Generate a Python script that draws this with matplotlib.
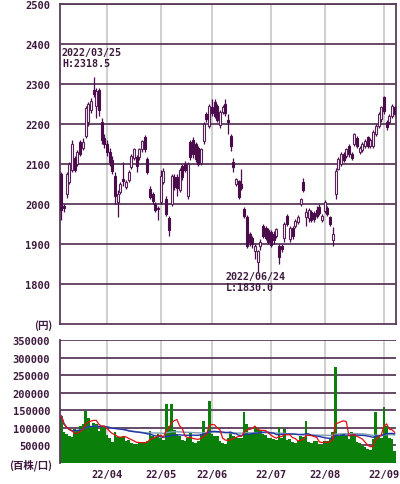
import matplotlib
matplotlib.use("Agg")
import matplotlib.pyplot as plt
import numpy as np
import pandas as pd

# ---------------- data ----------------
opens = [2075, 1995, 2025, 2055, 2085, 2115, 2100, 2155, 2140, 2170,
         2205, 2235, 2285, 2245, 2285, 2205, 2165, 2150, 2130, 2110,
         2070, 2005, 2030, 2062, 2042, 2060, 2092, 2115, 2117, 2118,
         2137, 2167, 2112, 2037, 2025, 2000, 1990, 2005, 2055, 2012,
         1965, 2000, 2067, 2068, 2035, 2095, 2100, 2020, 2155, 2160,
         2150, 2140, 2102, 2157, 2225, 2195, 2242, 2255, 2245, 2198,
         2230, 2250, 2210, 2170, 2105, 2050, 2057, 2050, 1987, 1967,
         1925, 1915, 1882, 1855, 1895, 1945, 1940, 1935, 1930, 1925,
         1920, 1895, 1895, 1915, 1970, 1912, 1940, 1945, 1955, 2000,
         2055, 1967, 1965, 1980, 1978, 1985, 1992, 1960, 1982, 1990,
         1967, 1910, 2025, 2087, 2100, 2125, 2120, 2145, 2125, 2150,
         2165, 2130, 2135, 2145, 2167, 2145, 2145, 2175, 2195, 2212,
         2267, 2205, 2205, 2220, 2242]
highs = [2080, 2000, 2080, 2105, 2160, 2120, 2135, 2160, 2165, 2245,
         2255, 2265, 2318.5, 2290, 2290, 2215, 2175, 2160, 2140, 2120,
         2080, 2035, 2055, 2105, 2060, 2085, 2125, 2140, 2122, 2140,
         2160, 2172, 2118, 2045, 2030, 2005, 1995, 2085, 2090, 2020,
         1970, 2075, 2075, 2075, 2090, 2100, 2108, 2105, 2160, 2168,
         2155, 2145, 2140, 2205, 2230, 2250, 2262, 2262, 2250, 2235,
         2248, 2262, 2225, 2175, 2115, 2065, 2060, 2088, 1992, 1972,
         1930, 1920, 1900, 1885, 1912, 1950, 1945, 1940, 1935, 1932,
         1940, 1900, 1900, 1955, 1975, 1945, 1945, 1962, 1972, 2015,
         2065, 1990, 1990, 1985, 1982, 1995, 2000, 1975, 2010, 1995,
         1970, 1942, 2090, 2118, 2130, 2130, 2140, 2150, 2130, 2178,
         2170, 2145, 2155, 2162, 2170, 2165, 2185, 2200, 2230, 2245,
         2270, 2210, 2225, 2250, 2248]
lows = [1960, 1980, 2015, 2050, 2080, 2080, 2095, 2120, 2135, 2165,
        2195, 2228, 2268, 2215, 2220, 2150, 2140, 2120, 2095, 2075,
        2000, 1968, 2025, 2045, 2038, 2055, 2088, 2110, 2080, 2110,
        2130, 2130, 2075, 2012, 2000, 1980, 1960, 2000, 2050, 1970,
        1920, 1995, 2035, 2020, 2030, 2060, 2080, 2012, 2110, 2115,
        2105, 2095, 2098, 2150, 2205, 2190, 2220, 2215, 2205, 2190,
        2225, 2220, 2175, 2132, 2080, 2045, 2012, 2035, 1965, 1890,
        1895, 1890, 1862, 1830, 1885, 1915, 1910, 1900, 1892, 1900,
        1915, 1850, 1880, 1905, 1945, 1905, 1912, 1940, 1950, 1995,
        2030, 1945, 1955, 1955, 1955, 1965, 1972, 1955, 1978, 1970,
        1945, 1895, 2012, 2085, 2095, 2105, 2115, 2118, 2110, 2145,
        2140, 2125, 2130, 2140, 2140, 2140, 2140, 2170, 2190, 2205,
        2225, 2185, 2200, 2215, 2218]
closes = [1985, 1990, 2075, 2100, 2150, 2085, 2130, 2125, 2155, 2240,
          2250, 2258, 2275, 2282, 2235, 2160, 2150, 2130, 2105, 2082,
          2020, 2025, 2050, 2058, 2055, 2080, 2120, 2137, 2095, 2137,
          2157, 2137, 2080, 2017, 2007, 1985, 1987, 2070, 2082, 1975,
          1935, 2070, 2042, 2040, 2085, 2068, 2085, 2100, 2117, 2125,
          2112, 2100, 2137, 2200, 2212, 2245, 2228, 2220, 2210, 2230,
          2242, 2228, 2205, 2145, 2092, 2062, 2017, 2040, 1970, 1895,
          1905, 1900, 1895, 1882, 1905, 1920, 1915, 1905, 1897, 1910,
          1937, 1867, 1888, 1950, 1950, 1940, 1920, 1957, 1968, 2012,
          2035, 1980, 1985, 1960, 1962, 1970, 1977, 1970, 2005, 1975,
          1950, 1925, 2082, 2112, 2125, 2110, 2137, 2125, 2115, 2175,
          2145, 2140, 2150, 2158, 2145, 2160, 2180, 2195, 2225, 2242,
          2232, 2192, 2220, 2245, 2225]
volumes = [134000, 88000, 82000, 78000, 75000, 97000, 92000, 105000, 111000, 148000,
           128000, 105000, 114000, 112000, 90000, 105000, 104000, 80000, 70000, 60000,
           88000, 75000, 73000, 76000, 62000, 65000, 58000, 54000, 55000, 60000,
           61000, 59000, 62000, 91000, 77000, 75000, 82000, 70000, 66000, 168000,
           105000, 168000, 95000, 82000, 78000, 66000, 64000, 70000, 88000, 60000,
           58000, 62000, 82000, 120000, 88000, 176000, 82000, 77000, 76000, 62000,
           57000, 55000, 70000, 88000, 77000, 75000, 70000, 70000, 145000, 111000,
           82000, 82000, 105000, 100000, 95000, 82000, 80000, 70000, 70000, 68000,
           66000, 102000, 70000, 97000, 66000, 68000, 60000, 58000, 62000, 77000,
           75000, 120000, 60000, 58000, 64000, 63000, 54000, 52000, 64000, 62000,
           70000, 88000, 273000, 77000, 80000, 82000, 78000, 68000, 88000, 86000,
           60000, 58000, 48000, 46000, 40000, 38000, 68000, 145000, 77000, 70000,
           160000, 105000, 70000, 68000, 34000]
month_ticks = [17, 37, 56, 78, 98, 120]
month_labels = ["22/04", "22/05", "22/06", "22/07", "22/08", "22/09"]
price_ticks = [1800, 1900, 2000, 2100, 2200, 2300, 2400, 2500]
vol_ticks = [50000, 100000, 150000, 200000, 250000, 300000, 350000]
high_note = "2022/03/25\nH:2318.5"
low_note = "2022/06/24\nL:1830.0"

# ---------------- style ----------------
plt.rcParams['font.family'] = ['DejaVu Sans Mono', 'Noto Sans CJK JP']
TXT = "#3d1a3d"
GRID_H = "#5a3a5a"
GRID_V = "#cccccc"
DOWN = "#4a0c4a"
EDGE = "#5a205a"

W, H = 400, 485
fig = plt.figure(figsize=(W / 100, H / 100), dpi=100)
fig.patch.set_facecolor("white")

def px_ax(x0, y0, x1, y1):
    return fig.add_axes([x0 / W, 1 - y1 / H, (x1 - x0) / W, (y1 - y0) / H])

n = len(closes)
idx = np.arange(n)
o = np.array(opens, float); c = np.array(closes, float)
h = np.array(highs, float); l = np.array(lows, float)

# ---------------- price panel ----------------
ax = px_ax(60, 5, 396, 325)
ax.set_xlim(-0.5, n - 0.5)
ax.set_ylim(1700, 2500)
for t in month_ticks:
    ax.axvline(t, color=GRID_V, lw=1.3, zorder=0)
for p in price_ticks:
    ax.axhline(p, color=GRID_H, lw=1.3, zorder=1)

ax.vlines(idx, l, h, color=DOWN, lw=0.9, zorder=2)
up = c >= o
bottoms = np.minimum(o, c)
heights = np.maximum(np.abs(c - o), 2.5)
ax.bar(idx[up], heights[up], bottom=bottoms[up], width=0.75,
       color="white", edgecolor=EDGE, linewidth=0.8, zorder=3)
ax.bar(idx[~up], heights[~up], bottom=bottoms[~up], width=0.75,
       color=DOWN, edgecolor=DOWN, linewidth=0.8, zorder=3)

ax.set_yticks(price_ticks)
ax.set_yticklabels([str(p) for p in price_ticks], fontsize=7.5,
                   fontweight="bold", color=TXT)
ax.set_xticks([])
ax.tick_params(axis="y", length=0, pad=7)
for s in ax.spines.values():
    s.set_color(GRID_H); s.set_linewidth(1.3)

imax = int(np.argmax(h)); imin = int(np.argmin(l))
ax.text(imax - 11.8, 2392, high_note, fontsize=7.2, fontweight="bold",
        color=TXT, va="top", ha="left", linespacing=1.05)
ax.text(imin - 11.8, 1832, low_note, fontsize=7.2, fontweight="bold",
        color=TXT, va="top", ha="left", linespacing=1.05)

fig.text(52 / W, 1 - 326 / H, "(円)", fontsize=7.5, fontweight="bold",
         color=TXT, ha="right", va="center",
         family=['Noto Sans CJK JP', 'DejaVu Sans'])

# ---------------- volume panel ----------------
av = px_ax(60, 341, 396, 464)
av.set_xlim(-0.5, n - 0.5)
av.set_ylim(0, 350000)
for t in month_ticks:
    av.axvline(t, color=GRID_V, lw=1.3, zorder=0)
for v in vol_ticks:
    av.axhline(v, color=GRID_H, lw=1.3, zorder=1)
av.bar(idx, volumes, width=1.0, color="#0a800a", edgecolor="none", zorder=2)

vs = pd.Series(volumes, dtype=float)
ma5 = vs.rolling(5, min_periods=1).mean()
ma25 = vs.rolling(25, min_periods=1).mean()
ma75 = vs.rolling(75, min_periods=1).mean()
av.plot(idx, ma75, color="#7f9fb0", lw=1.0, zorder=3)
av.plot(idx, ma25, color="#2233aa", lw=1.0, zorder=4)
av.plot(idx, ma5, color="#e01010", lw=0.9, zorder=5)

av.set_yticks(vol_ticks)
av.set_yticklabels([str(v) for v in vol_ticks], fontsize=7.5,
                   fontweight="bold", color=TXT)
av.tick_params(axis="y", length=0, pad=7)
av.set_xticks(month_ticks)
av.set_xticklabels(month_labels, fontsize=7.5, fontweight="bold", color=TXT)
av.tick_params(axis="x", length=0, pad=4)
for s in av.spines.values():
    s.set_visible(False)
av.spines["left"].set_visible(True)
av.spines["left"].set_color(GRID_H)
av.spines["left"].set_linewidth(1.3)

fig.text(52 / W, 1 - 465 / H, "(百株/口)", fontsize=7.5, fontweight="bold",
         color=TXT, ha="right", va="center",
         family=['Noto Sans CJK JP', 'DejaVu Sans'])

fig.savefig("out.png", dpi=100, facecolor="white")
